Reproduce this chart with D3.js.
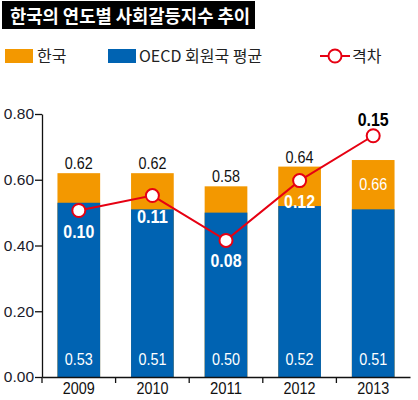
<!DOCTYPE html>
<html>
  <head>
    <meta charset="utf-8">
    <script src="https://d3js.org/d3.v7.min.js"></script>
    <style>
      body { margin: 0; background: #fff; }
    </style>
  </head>
  <body>
    <script>

    // data
    var years = ["2009", "2010", "2011", "2012", "2013"];
    var korea = [0.62, 0.62, 0.58, 0.64, 0.66];   // 한국
    var oecd  = [0.53, 0.51, 0.50, 0.52, 0.51];   // OECD 회원국 평균
    var gap   = [0.10, 0.11, 0.08, 0.12, 0.15];   // 격차
    var yTicks = [0, 0.2, 0.4, 0.6, 0.8];

    var w = 418, h = 400;
    var orange = "#f39800", blue = "#0063b2", red = "#e60012";
    var numFont = "'Liberation Sans', Arial, sans-serif";
    var krFont = "'Noto Sans CJK KR', 'Noto Sans', sans-serif";

    var svg = d3.select("body").append("svg")
      .attr("width", w)
      .attr("height", h);

    // title band
    svg.append("rect")
      .attr("x", 2).attr("y", 1)
      .attr("width", 253).attr("height", 28)
      .attr("fill", "#000");
    svg.append("text")
      .attr("x", 10).attr("y", 22.5)
      .attr("font-family", krFont)
      .attr("font-weight", "bold")
      .attr("font-size", "18px")
      .attr("fill", "#fff")
      .attr("textLength", 240)
      .attr("lengthAdjust", "spacingAndGlyphs")
      .text("한국의 연도별 사회갈등지수 추이");

    // legend
    var leg = svg.append("g").attr("font-family", krFont).attr("font-size", "16px").attr("fill", "#222");
    leg.append("rect").attr("x", 5).attr("y", 49).attr("width", 28).attr("height", 14).attr("fill", orange);
    leg.append("text").attr("x", 37).attr("y", 62).text("한국");
    leg.append("rect").attr("x", 108).attr("y", 49).attr("width", 28).attr("height", 14).attr("fill", blue);
    leg.append("text").attr("x", 139).attr("y", 62).text("OECD 회원국 평균");
    leg.append("line").attr("x1", 320).attr("x2", 350).attr("y1", 56).attr("y2", 56)
      .attr("stroke", red).attr("stroke-width", 2);
    leg.append("circle").attr("cx", 335).attr("cy", 56).attr("r", 6.5)
      .attr("fill", "#fff").attr("stroke", red).attr("stroke-width", 2);
    leg.append("text").attr("x", 352).attr("y", 62).text("격차");

    // scales
    var x = d3.scaleBand()
      .domain(years)
      .range([42, 410])
      .paddingInner(0.42)
      .paddingOuter(0.21);

    var y = d3.scaleLinear()
      .domain([0, 0.8])
      .range([377, 114]);

    // the gap line uses its own scale
    var yGap = d3.scaleLinear()
      .domain([0, 0.2])
      .range([360, 61]);

    // bars: korea (orange) behind, oecd (blue) on top
    svg.selectAll("rect.korea")
      .data(korea)
      .enter().append("rect")
      .attr("class", "korea")
      .attr("x", function(d, i) { return x(years[i]); })
      .attr("y", function(d) { return y(d); })
      .attr("width", x.bandwidth())
      .attr("height", function(d) { return y(0) - y(d); })
      .attr("fill", orange);

    svg.selectAll("rect.oecd")
      .data(oecd)
      .enter().append("rect")
      .attr("class", "oecd")
      .attr("x", function(d, i) { return x(years[i]); })
      .attr("y", function(d) { return y(d); })
      .attr("width", x.bandwidth())
      .attr("height", function(d) { return y(0) - y(d); })
      .attr("fill", blue);

    // y axis
    var yAxis = svg.append("g")
      .attr("transform", "translate(42,0)")
      .call(d3.axisLeft(y).tickValues(yTicks).tickSize(7).tickSizeOuter(0).tickFormat(d3.format(".2f")));
    yAxis.select(".domain").attr("stroke", "#111").attr("stroke-width", 1.3);
    yAxis.selectAll(".tick line").attr("stroke", "#111").attr("stroke-width", 1.3);
    yAxis.selectAll(".tick text")
      .attr("x", -8)
      .attr("font-family", numFont)
      .attr("font-size", "15.5px")
      .attr("fill", "#1a1a2a");

    // x axis
    var xAxis = svg.append("g")
      .attr("transform", "translate(0,377)")
      .call(d3.axisBottom(x).tickSize(0).tickSizeOuter(0));
    xAxis.select(".domain").attr("stroke", "#111").attr("stroke-width", 1.3);
    xAxis.selectAll(".tick text")
      .attr("y", 5)
      .attr("font-family", numFont)
      .attr("font-size", "17px")
      .attr("fill", "#111")
      .attr("textLength", 32)
      .attr("lengthAdjust", "spacingAndGlyphs");
    // small ticks between the years
    xAxis.selectAll("line.sep")
      .data(years)
      .enter().append("line")
      .attr("class", "sep")
      .attr("x1", function(d) { return x(d) - x.step() * x.paddingOuter(); })
      .attr("x2", function(d) { return x(d) - x.step() * x.paddingOuter(); })
      .attr("y1", 0).attr("y2", 6)
      .attr("stroke", "#111").attr("stroke-width", 1.3);

    var cx = function(i) { return x(years[i]) + x.bandwidth() / 2; };

    // oecd labels at the bottom of the bars
    svg.selectAll("text.oecdLab")
      .data(oecd)
      .enter().append("text")
      .attr("class", "oecdLab")
      .attr("x", function(d, i) { return cx(i) - 14; })
      .attr("y", y(0) - 12)
      .attr("font-family", numFont)
      .attr("font-size", "16.5px")
      .attr("fill", "#fff")
      .attr("textLength", 28)
      .attr("lengthAdjust", "spacingAndGlyphs")
      .text(function(d) { return d.toFixed(2); });

    // korea labels: above the bar, or inside when the gap point sits above it
    svg.selectAll("text.koreaLab")
      .data(korea)
      .enter().append("text")
      .attr("class", "koreaLab")
      .attr("x", function(d, i) { return cx(i) - 14; })
      .attr("y", function(d, i) {
        return yGap(gap[i]) < y(d) ? y(d) + 30 : y(d) - 4;
      })
      .attr("font-family", numFont)
      .attr("font-size", "16.5px")
      .attr("fill", function(d, i) { return yGap(gap[i]) < y(d) ? "#fff" : "#111"; })
      .attr("textLength", 28)
      .attr("lengthAdjust", "spacingAndGlyphs")
      .text(function(d) { return d.toFixed(2); });

    // gap line
    var line = d3.line()
      .x(function(d, i) { return cx(i); })
      .y(function(d) { return yGap(d); });

    svg.append("path")
      .datum(gap)
      .attr("d", line)
      .attr("fill", "none")
      .attr("stroke", red)
      .attr("stroke-width", 2);

    svg.selectAll("circle.gap")
      .data(gap)
      .enter().append("circle")
      .attr("class", "gap")
      .attr("cx", function(d, i) { return cx(i); })
      .attr("cy", function(d) { return yGap(d); })
      .attr("r", 6.5)
      .attr("fill", "#fff")
      .attr("stroke", red)
      .attr("stroke-width", 2);

    // gap labels: white under the point, black above it when outside the bar
    svg.selectAll("text.gapLab")
      .data(gap)
      .enter().append("text")
      .attr("class", "gapLab")
      .attr("x", function(d, i) { return cx(i) - 15.5; })
      .attr("y", function(d, i) {
        return yGap(d) < y(korea[i]) ? yGap(d) - 10 : yGap(d) + 27;
      })
      .attr("font-family", numFont)
      .attr("font-weight", "bold")
      .attr("font-size", "18px")
      .attr("fill", function(d, i) { return yGap(d) < y(korea[i]) ? "#000" : "#fff"; })
      .attr("textLength", 31)
      .attr("lengthAdjust", "spacingAndGlyphs")
      .text(function(d) { return d.toFixed(2); });

    </script>
  </body>
</html>
